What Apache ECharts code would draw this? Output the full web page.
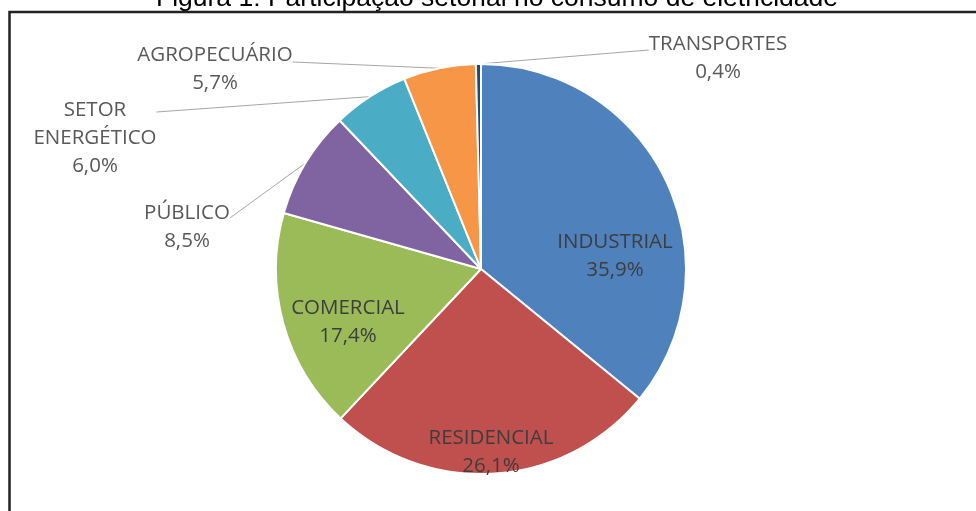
<!DOCTYPE html>
<html>
<head>
<meta charset="utf-8">
<script src="https://cdn.jsdelivr.net/npm/echarts@6/dist/echarts.min.js"></script>
<style>
html,body{margin:0;padding:0;background:#fff;}
#chart{width:976px;height:511px;}
</style>
</head>
<body>
<div id="chart"></div>
<script>
const titleText = 'Figura 1: Participação setorial no consumo de eletricidade';
const categories = ['INDUSTRIAL', 'RESIDENCIAL', 'COMERCIAL', 'PÚBLICO', 'SETOR\nENERGÉTICO', 'AGROPECUÁRIO', 'TRANSPORTES'];
const values = [35.9, 26.1, 17.4, 8.5, 6.0, 5.7, 0.4];
const colors = ['#4f81bd', '#c0504d', '#9bbb59', '#8064a2', '#4bacc6', '#f79646', '#1f497d'];
const insideLabel = [true, true, true, false, false, false, false];
// label placement: [x centre, y of label box middle, height of blank gap line above text]
const labelPos = {
  0: [615, 256, 0],
  1: [491, 452, 0],
  2: [348, 322, 0],
  3: [187, 218, 18],
  4: [95, 112, 52],
  5: [215, 62, 14],
  6: [718, 50, 16]
};

const chart = echarts.init(document.getElementById('chart'), null, {renderer: 'canvas'});
const valText = v => v.toFixed(1).replace('.', ',') + '%';

const fontFamily = '"Open Sans", sans-serif';
const data = categories.map((c, i) => {
  const inside = insideLabel[i];
  const color = inside ? '#3d3d3d' : '#595959';
  const gap = labelPos[i][2];
  return {
    name: c,
    value: values[i],
    itemStyle: {color: colors[i]},
    label: {
      position: inside ? 'inside' : 'outside',
      formatter: p => {
        const lines = p.name.split('\n').concat([valText(p.value)]).map(l => '{t|' + l + '}');
        return (gap ? '{g| }\n' : '') + lines.join('\n');
      },
      rich: {
        t: {fontFamily: fontFamily, fontSize: 20.5, lineHeight: 28, color: color, align: 'center'},
        g: {fontFamily: fontFamily, fontSize: 2, lineHeight: gap || 1, color: 'transparent', align: 'center'}
      }
    },
    labelLine: {show: !inside}
  };
});

chart.setOption({
  animation: false,
  graphic: [
    {type: 'rect', shape: {x: 9.5, y: 12, width: 1100, height: 700}, style: {fill: 'none', stroke: '#222', lineWidth: 2.5}, z: 10},
    {type: 'text', x: 497, y: 12, style: {text: titleText, font: '26.5px "Liberation Sans", Arial, sans-serif', fill: '#000', textAlign: 'center', textVerticalAlign: 'bottom'}, z: 9}
  ],
  series: [{
    type: 'pie',
    center: [481, 269],
    radius: 205,
    startAngle: 90,
    clockwise: true,
    avoidLabelOverlap: false,
    itemStyle: {borderColor: '#fff', borderWidth: 2},
    label: {
      fontFamily: fontFamily,
      fontSize: 20.5,
      lineHeight: 28,
      align: 'center'
    },
    labelLine: {length: 20, length2: 0, lineStyle: {color: '#a6a6a6', width: 1}},
    labelLayout: function (params) {
      const p = labelPos[params.dataIndex];
      if (!p) return {};
      return {x: p[0], y: p[1], align: 'center', verticalAlign: 'middle'};
    },
    emphasis: {disabled: true},
    data: data
  }]
});
</script>
</body>
</html>
